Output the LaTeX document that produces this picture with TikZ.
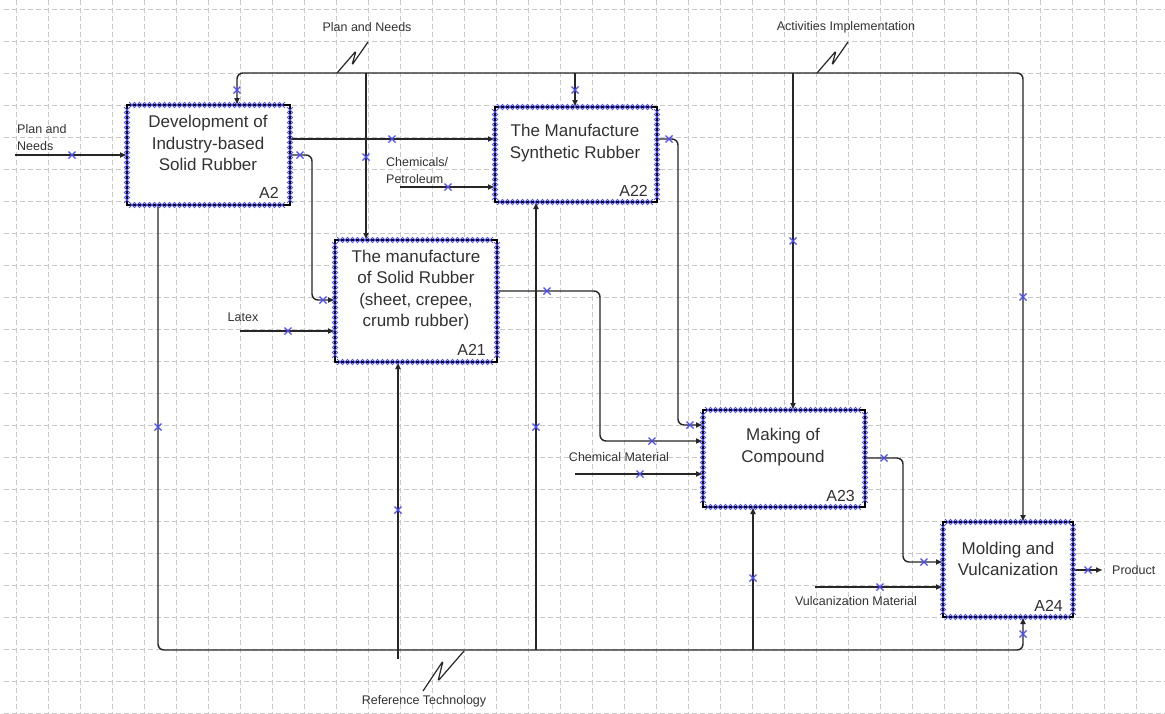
\documentclass[tikz,border=0pt]{standalone}
\usepackage{fontspec}
\setmainfont{Liberation Sans}
\usetikzlibrary{arrows.meta,decorations.markings}
\definecolor{xblue}{RGB}{75,75,250}
\definecolor{txt}{RGB}{50,50,50}
\definecolor{gridc}{RGB}{200,200,200}
\newcommand\xmk[2]{\draw[mk] (#1,#2) +(-3.5,-3.5) -- +(3.5,3.5) +(-3.5,3.5) -- +(3.5,-3.5);}
\newcommand\chainbox[1]{%
 \path[xchain] ([xshift=5pt]#1.north west) -- ([xshift=-5pt]#1.north east);
 \path[xchain] ([xshift=5pt]#1.south west) -- ([xshift=-5pt]#1.south east);
 \path[xchain] ([yshift=-5pt]#1.north west) -- ([yshift=5pt]#1.south west);
 \path[xchain] ([yshift=-5pt]#1.north east) -- ([yshift=5pt]#1.south east);}
\begin{document}
\begin{tikzpicture}[x=1pt,y=-1pt,
 box/.style={draw=black, fill=white, line width=1.3pt, inner sep=0pt, outer sep=0pt},
 ttl/.style={text=txt, align=center, font=\fontsize{17}{21.5}\selectfont, inner sep=0pt},
 num/.style={text=txt, font=\fontsize{16}{18}\selectfont, inner sep=0pt, anchor=south east},
 lbl/.style={text=txt, font=\fontsize{12.5}{17}\selectfont, inner sep=0pt},
 conn/.style={draw=black!85, line width=1.4pt},
 arr/.style={conn, -{Latex[length=7pt,width=6pt]}},
 arrboth/.style={conn, {Latex[length=7pt,width=6pt]}-{Latex[length=7pt,width=6pt]}},
 rc/.style={rounded corners=6pt},
 mk/.style={draw=xblue, line width=1.1pt},
 xchain/.style={postaction={decorate, decoration={markings, mark=between positions 0 and 1 step 5pt with {\draw[xblue, line width=0.75pt] (-2.8pt,-2.8pt)--(2.8pt,2.8pt) (-2.8pt,2.8pt)--(2.8pt,-2.8pt);}}}},
 grd/.style={draw=gridc, line width=0.9pt, dash pattern=on 5pt off 3pt}]
\fill[white] (0,0) rectangle (1165,713);
\useasboundingbox (0,0) rectangle (1165,713);
% grid
\foreach \yy in {9,41,...,713} \draw[grd] (4,\yy) -- (1165,\yy);
\foreach \xx in {16,48,...,1165} \draw[grd] (\xx,0) -- (\xx,713);
% boxes
\node[box, minimum width=163pt, minimum height=100pt] (a2) at (208.5,155) {};
\node[box, minimum width=162pt, minimum height=95pt] (a22) at (576,154.5) {};
\node[box, minimum width=162pt, minimum height=122pt] (a21) at (416,301) {};
\node[box, minimum width=162pt, minimum height=97pt] (a23) at (784,458.5) {};
\node[box, minimum width=130pt, minimum height=95pt] (a24) at (1008,569.5) {};
% coordinates
\coordinate (tl) at (237,73); \coordinate (tr) at (1023,73);
\coordinate (t1) at (366,73); \coordinate (t2) at (575,73); \coordinate (t3) at (793,73);
\coordinate (bl) at (158,650); \coordinate (br) at (1023,650);
\coordinate (b1) at (398,659); \coordinate (b2) at (536,650); \coordinate (b3) at (753,650);
\coordinate (pin) at (15,155); \coordinate (cin) at (400,187); \coordinate (latin) at (240,331);
\coordinate (cmin) at (575,474); \coordinate (vin) at (815,587); \coordinate (pout) at (1103,570);
\coordinate (yA) at (0,139); \coordinate (yB) at (0,155); \coordinate (yD) at (0,300);
\coordinate (yF) at (0,291); \coordinate (yG) at (0,425); \coordinate (yH) at (0,441);
\coordinate (yJ) at (0,458); \coordinate (yK) at (0,562); \coordinate (yM) at (0,570);
\coordinate (xA) at (312,0); \coordinate (xB) at (600,0); \coordinate (xC) at (678,0); \coordinate (xD) at (903,0);
% controls
\draw[arrboth, rc] (tl |- a2.north) -- (tl) -- (tr) -- (tr |- a24.north);
\draw[arr] (t1) -- (t1 |- a21.north);
\draw[arr] (t2) -- (t2 |- a22.north);
\draw[arr] (t3) -- (t3 |- a23.north);
% mechanisms
\draw[arr, rc] (bl |- a2.south) -- (bl) -- (br) -- (br |- a24.south);
\draw[arr] (b1) -- (b1 |- a21.south);
\draw[arr] (b2) -- (b2 |- a22.south);
\draw[arr] (b3) -- (b3 |- a23.south);
% flows
\draw[arr] (pin) -- (pin -| a2.west);
\draw[arr] (a2.east |- yA) -- (a22.west |- yA);
\draw[arr, rc] (a2.east |- yB) -- (xA |- yB) -- (xA |- yD) -- (a21.west |- yD);
\draw[arr] (cin) -- (cin -| a22.west);
\draw[arr] (latin) -- (latin -| a21.west);
\draw[arr, rc] (a21.east |- yF) -- (xB |- yF) -- (xB |- yH) -- (a23.west |- yH);
\draw[arr, rc] (a22.east |- yA) -- (xC |- yA) -- (xC |- yG) -- (a23.west |- yG);
\draw[arr] (cmin) -- (cmin -| a23.west);
\draw[arr, rc] (a23.east |- yJ) -- (xD |- yJ) -- (xD |- yK) -- (a24.west |- yK);
\draw[arr] (vin) -- (vin -| a24.west);
\draw[arr] (a24.east |- yM) -- (pout);
% squiggles
\draw[conn, line width=1.2pt, rounded corners=1.5pt] (337,73) -- (356,51) -- (352,65) -- (368,42);
\draw[conn, line width=1.2pt, rounded corners=1.5pt] (817,73) -- (836,51) -- (832,65) -- (848,42);
\draw[conn, line width=1.2pt, rounded corners=1.5pt] (464,651) -- (438,681) -- (443,661) -- (423,691);
% chains
\chainbox{a2}\chainbox{a22}\chainbox{a21}\chainbox{a23}\chainbox{a24}
% box texts
\node[ttl] (a2t) at (208,143) {Development of\\Industry-based\\Solid Rubber};
\node[ttl] (a22t) at (575,143) {The Manufacture\\Synthetic Rubber};
\node[ttl] (a21t) at (416,290) {The manufacture\\of Solid Rubber\\(sheet, crepee,\\crumb rubber)};
\node[ttl] (a23t) at (783,447) {Making of\\Compound};
\node[ttl] (a24t) at (1008,559) {Molding and\\Vulcanization};
\node[num] (a2n) at ([xshift=-11pt,yshift=6pt]a2.south east) {A2};
\node[num] (a22n) at ([xshift=-9pt,yshift=5pt]a22.south east) {A22};
\node[num] (a21n) at ([xshift=-11pt,yshift=6pt]a21.south east) {A21};
\node[num] (a23n) at ([xshift=-10pt,yshift=5pt]a23.south east) {A23};
\node[num] (a24n) at ([xshift=-10pt,yshift=5pt]a24.south east) {A24};
% labels
\node[lbl] (Lpn) at (367,27) {Plan and Needs};
\node[lbl] (Lai) at (846,27) {Activities Implementation};
\node[lbl] (Lrt) at (424,701) {Reference Technology};
\node[lbl, anchor=west, align=left] (Lin) at (17,138) {Plan and\\Needs};
\node[lbl, anchor=west, align=left] (Lch) at (386,170.5) {Chemicals/\\Petroleum};
\node[lbl] (Llx) at (243,317) {Latex};
\node[lbl] (Lcm) at (619,457) {Chemical Material};
\node[lbl] (Lvm) at (856,601) {Vulcanization Material};
\node[lbl, anchor=west] (Lpr) at (1112,570) {Product};
% markers
\xmk{72}{155}\xmk{237}{90}\xmk{392}{139}\xmk{300}{155}\xmk{366}{157}
\xmk{575}{90}\xmk{448}{187}\xmk{669}{139}\xmk{323}{300}\xmk{288}{331}
\xmk{547}{291}\xmk{793}{241}\xmk{1023}{297}\xmk{158}{427}\xmk{536}{427}
\xmk{398}{510}\xmk{652}{441}\xmk{690}{425}\xmk{640}{474}\xmk{753}{578}
\xmk{884}{458}\xmk{924}{562}\xmk{880}{587}\xmk{1088}{570}\xmk{1023}{634}
\end{tikzpicture}
\end{document}
